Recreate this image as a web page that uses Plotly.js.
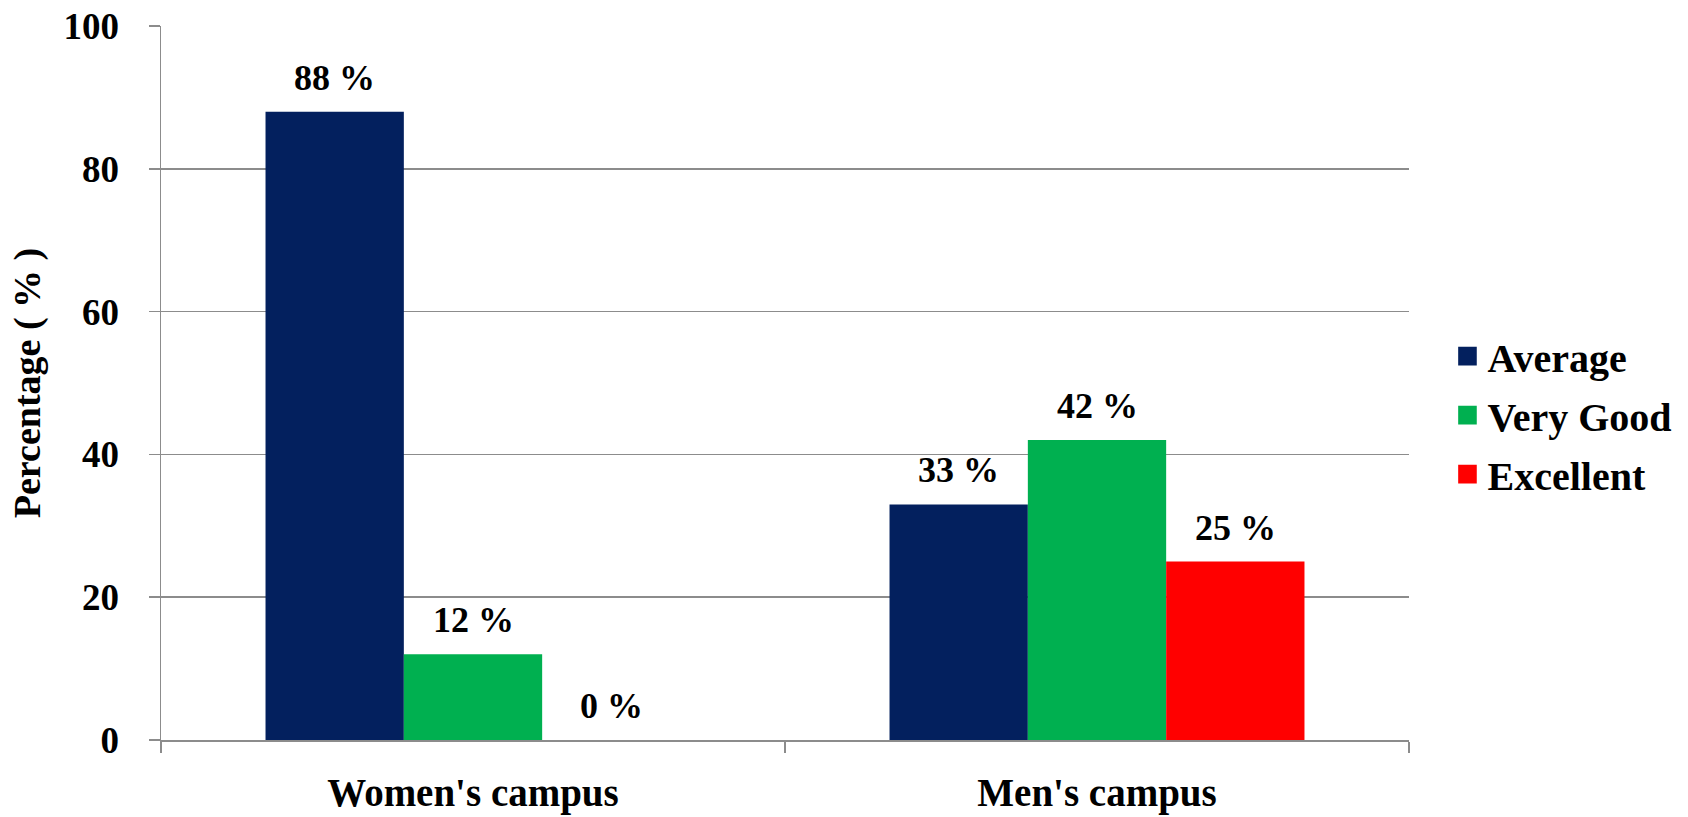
<!DOCTYPE html>
<html>
<head>
<meta charset="utf-8">
<script src="https://cdn.plot.ly/plotly-3.0.1.min.js"></script>
<style>
  html, body { margin: 0; padding: 0; background: #ffffff; }
  #chart { width: 1688px; height: 817px; }
</style>
</head>
<body>
<div id="chart"></div>
<script>
// ---- data ----
var categories = ["Women's campus", "Men's campus"];
var seriesNames = ["Average", "Very Good", "Excellent"];
var averageValues = [88, 33];
var veryGoodValues = [12, 42];
var excellentValues = [0, 25];
var yTickValues = [0, 20, 40, 60, 80, 100];
var yTickLabels = ["0", "20", "40", "60", "80", "100"];

// ---- styles ----
var seriesColors = ["#03205E", "#00B050", "#FF0000"];
var FONT = "'Liberation Serif', 'Times New Roman', serif";
var GRID = "#8c8c8c";
var BARGAP = 0.335;

var seriesValues = [averageValues, veryGoodValues, excellentValues];

var traces = seriesValues.map(function (vals, si) {
  return {
    type: "bar",
    name: seriesNames[si],
    x: categories,
    y: vals,
    legendgroup: "g" + si,
    marker: { color: seriesColors[si], line: { width: 0 } },
    hoverinfo: "x+y+name"
  };
});

// value labels, placed on the category axis through the group offsets
var barW = (1 - BARGAP) / seriesValues.length;
var annotations = [];
seriesValues.forEach(function (vals, si) {
  vals.forEach(function (v, ci) {
    annotations.push({
      xref: "x", yref: "y",
      x: ci + (si - (seriesValues.length - 1) / 2) * barW,
      y: v,
      text: "<b>" + v + " %</b>",
      showarrow: false,
      xanchor: "center",
      yanchor: "bottom",
      yshift: 12,
      font: { family: FONT, size: 36, color: "#000000" }
    });
  });
});

var layout = {
  width: 1688,
  height: 817,
  paper_bgcolor: "#ffffff",
  plot_bgcolor: "#ffffff",
  margin: { l: 161, r: 278, t: 26, b: 77, pad: 0 },
  barmode: "group",
  bargap: BARGAP,
  bargroupgap: 0,
  font: { family: FONT, color: "#000000" },
  showlegend: true,
  legend: {
    x: 1.030, xanchor: "left",
    y: 0.455, yanchor: "middle",
    font: { family: FONT, size: 40, color: "#000000", weight: "bold" },
    tracegroupgap: 4,
    traceorder: "grouped",
    bgcolor: "rgba(0,0,0,0)",
    borderwidth: 0
  },
  xaxis: {
    type: "category",
    showgrid: false,
    showline: true,
    linecolor: GRID,
    linewidth: 1.5,
    ticks: "outside",
    tickson: "boundaries",
    ticklen: 11,
    tickcolor: GRID,
    tickwidth: 1.5,
    ticklabelstandoff: 18,
    tickfont: { family: FONT, size: 39, color: "#000000", weight: "bold" },
    automargin: false,
    fixedrange: true
  },
  yaxis: {
    range: [0, 100],
    tickvals: yTickValues,
    ticktext: yTickLabels,
    showgrid: true,
    gridcolor: GRID,
    gridwidth: 1.5,
    zeroline: false,
    showline: true,
    linecolor: GRID,
    linewidth: 1.5,
    ticks: "outside",
    ticklen: 11,
    tickcolor: GRID,
    tickwidth: 1.5,
    ticklabelstandoff: 22,
    tickfont: { family: FONT, size: 37, color: "#000000", weight: "bold" },
    title: {
      text: "<b>Percentage ( % )</b>",
      font: { family: FONT, size: 38, color: "#000000" },
      standoff: 11
    },
    automargin: false,
    fixedrange: true
  },
  annotations: annotations
};

Plotly.newPlot("chart", traces, layout, { displayModeBar: false, staticPlot: true }).then(function (gd) {
  // enlarge legend swatches to match the reference
  var pts = gd.querySelectorAll(".legend .legendpoints path");
  pts.forEach(function (p) {
    var t = p.getAttribute("transform") || "";
    p.setAttribute("transform", t + " scale(1.55)");
  });
});
</script>
</body>
</html>
